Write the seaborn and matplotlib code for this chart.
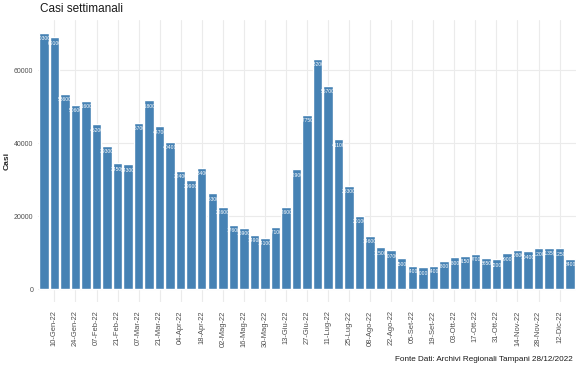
import numpy as np
import pandas as pd
import seaborn as sns
import matplotlib.pyplot as plt

# Casi settimanali (settimane dal 03-Gen-22 al 19-Dic-22)
mesi_it = ['Gen', 'Feb', 'Mar', 'Apr', 'Mag', 'Giu', 'Lug', 'Ago', 'Set', 'Ott', 'Nov', 'Dic']
settimane = pd.date_range('2022-01-03', '2022-12-19', freq='7D')
etichette = [f"{d.day:02d}-{mesi_it[d.month - 1]}-{d.strftime('%y')}" for d in settimane]

casi = [70300, 69100, 53600, 50600, 51600, 45200, 39300, 34500, 34300, 45700,
        51800, 44700, 40400, 32400, 29900, 33400, 26300, 22600, 17600, 16900,
        14900, 14100, 17100, 22600, 32900, 47750, 63200, 55700, 41100, 28300,
        20100, 14600, 11500, 10700, 8500, 6400, 6000, 6400, 7800, 8800,
        9150, 9700, 8650, 8200, 9900, 10800, 10400, 11200, 11350, 11250, 8400]

df = pd.DataFrame({'settimana': etichette, 'casi': casi})

sns.set_theme(style='whitegrid')
plt.rcParams['font.family'] = ['Liberation Sans', 'DejaVu Sans']

fig = plt.figure(figsize=(5.87, 3.8), dpi=100)
ax = fig.add_axes([0.064, 0.205, 0.918, 0.742])

sns.barplot(data=df, x='settimana', y='casi', color='steelblue', saturation=1,
            width=0.9, ax=ax)

# etichette dei valori dentro le barre
ax.bar_label(ax.containers[0], labels=[str(v) for v in casi], padding=-6,
             color='white', fontsize=3.6)

ax.set_xlim(-0.6, len(casi) - 0.4)
ax.set_ylim(-3500, 73800)
ax.set_yticks([0, 20000, 40000, 60000])
ax.set_yticklabels(['0', '20000', '40000', '60000'], fontsize=5, color='#4d4d4d')

pos = np.arange(1, len(etichette), 2)
ax.set_xticks(pos)
ax.set_xticklabels([etichette[i] for i in pos], rotation=90, fontsize=5.4, color='#4d4d4d')
ax.tick_params(axis='x', length=3, color='#d9d9d9', pad=3)
ax.tick_params(axis='y', length=0, pad=3)

ax.grid(True, color='#ebebeb', linewidth=0.8)
ax.set_axisbelow(True)
for s in ax.spines.values():
    s.set_visible(False)

ax.set_xlabel('')
ax.set_ylabel('Casi', fontsize=6, fontweight='bold', labelpad=2)
fig.text(0.068, 0.976, 'Casi settimanali', fontsize=8.5, color='#1a1a1a', va='center')
fig.text(0.976, 0.053, 'Fonte Dati: Archivi Regionali Tampani 28/12/2022',
         fontsize=5.85, ha='right', va='center', color='#1a1a1a')

fig.savefig('out.png', dpi=100)
